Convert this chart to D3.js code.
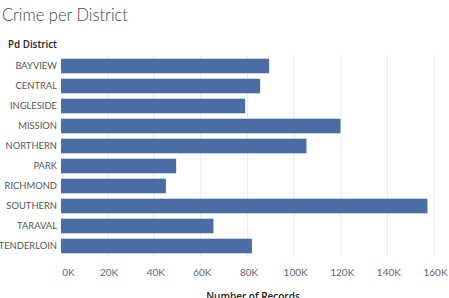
<!DOCTYPE html>
<html>
<head>
<meta charset="utf-8">
<script src="https://cdn.jsdelivr.net/npm/d3@7"></script>
<style>
body { margin: 0; background: #fff; }
svg { display: block; }
</style>
</head>
<body>
<div id="chart"></div>
<script>
// districts and record counts
var districts = ["BAYVIEW", "CENTRAL", "INGLESIDE", "MISSION", "NORTHERN", "PARK", "RICHMOND", "SOUTHERN", "TARAVAL", "TENDERLOIN"];
var records = [89300, 85400, 79000, 119900, 105300, 49400, 45000, 157200, 65400, 81900];
var tickValues = [0, 20000, 40000, 60000, 80000, 100000, 120000, 140000, 160000];
var tickLabels = ["0K", "20K", "40K", "60K", "80K", "100K", "120K", "140K", "160K"];

var width = 449, height = 298;
var plotLeft = 61, plotRight = 434;
var plotTop = 56, plotBottom = 256;

var svg = d3.select("#chart").append("svg")
  .attr("width", width)
  .attr("height", height);

var xScale = d3.scaleLinear()
  .domain([0, 160000])
  .range([plotLeft, plotRight]);

var yScale = d3.scaleBand()
  .domain(districts)
  .range([plotTop, plotBottom])
  .paddingInner(0.27)
  .paddingOuter(0.135);

/* title */
svg.append("text")
  .attr("x", 2)
  .attr("y", 21)
  .attr("textLength", 126)
  .attr("lengthAdjust", "spacingAndGlyphs")
  .style("font-family", "Lato, sans-serif")
  .style("font-weight", 300)
  .style("font-size", "17px")
  .style("fill", "#444")
  .text("Crime per District");

svg.append("text")
  .attr("x", 8)
  .attr("y", 48)
  .attr("textLength", 49)
  .attr("lengthAdjust", "spacingAndGlyphs")
  .style("font-family", "'Open Sans', sans-serif")
  .style("font-weight", 600)
  .style("font-size", "10px")
  .style("fill", "#222")
  .text("Pd District");

/* grid lines */
svg.append("g")
  .selectAll("line")
  .data(tickValues.slice(1))
  .enter()
  .append("line")
  .attr("x1", d => xScale(d))
  .attr("x2", d => xScale(d))
  .attr("y1", plotTop - 1)
  .attr("y2", plotBottom)
  .style("stroke", "#ececec")
  .style("stroke-width", 1);

/* bars */
svg.append("g")
  .selectAll("rect")
  .data(districts)
  .enter()
  .append("rect")
  .attr("x", xScale(0))
  .attr("y", d => yScale(d))
  .attr("width", (d, i) => xScale(records[i]) - xScale(0))
  .attr("height", yScale.bandwidth())
  .style("fill", "#4a6ea3");

/* y axis */
var yAxis = d3.axisLeft(yScale).tickSize(0).tickPadding(4);
var gy = svg.append("g")
  .attr("transform", `translate(${plotLeft}, 0)`)
  .call(yAxis);
gy.select(".domain").remove();
gy.selectAll("text")
  .style("font-family", "Lato, sans-serif")
  .style("font-size", "9.4px")
  .style("fill", "#555");

/* x axis */
var xAxis = d3.axisBottom(xScale)
  .tickValues(tickValues)
  .tickFormat((d, i) => tickLabels[i])
  .tickSize(0)
  .tickPadding(13);
var gx = svg.append("g")
  .attr("transform", `translate(1, ${plotBottom})`)
  .call(xAxis);
gx.select(".domain").remove();
gx.selectAll("text")
  .attr("dx", d => d === 0 ? 6 : 0)
  .style("font-family", "Lato, sans-serif")
  .style("font-size", "10px")
  .style("fill", "#666");

svg.append("text")
  .attr("x", 253)
  .attr("y", 300)
  .attr("text-anchor", "middle")
  .style("font-family", "'Open Sans', sans-serif")
  .style("font-weight", 600)
  .style("font-size", "10px")
  .style("fill", "#222")
  .text("Number of Records");
</script>
</body>
</html>
